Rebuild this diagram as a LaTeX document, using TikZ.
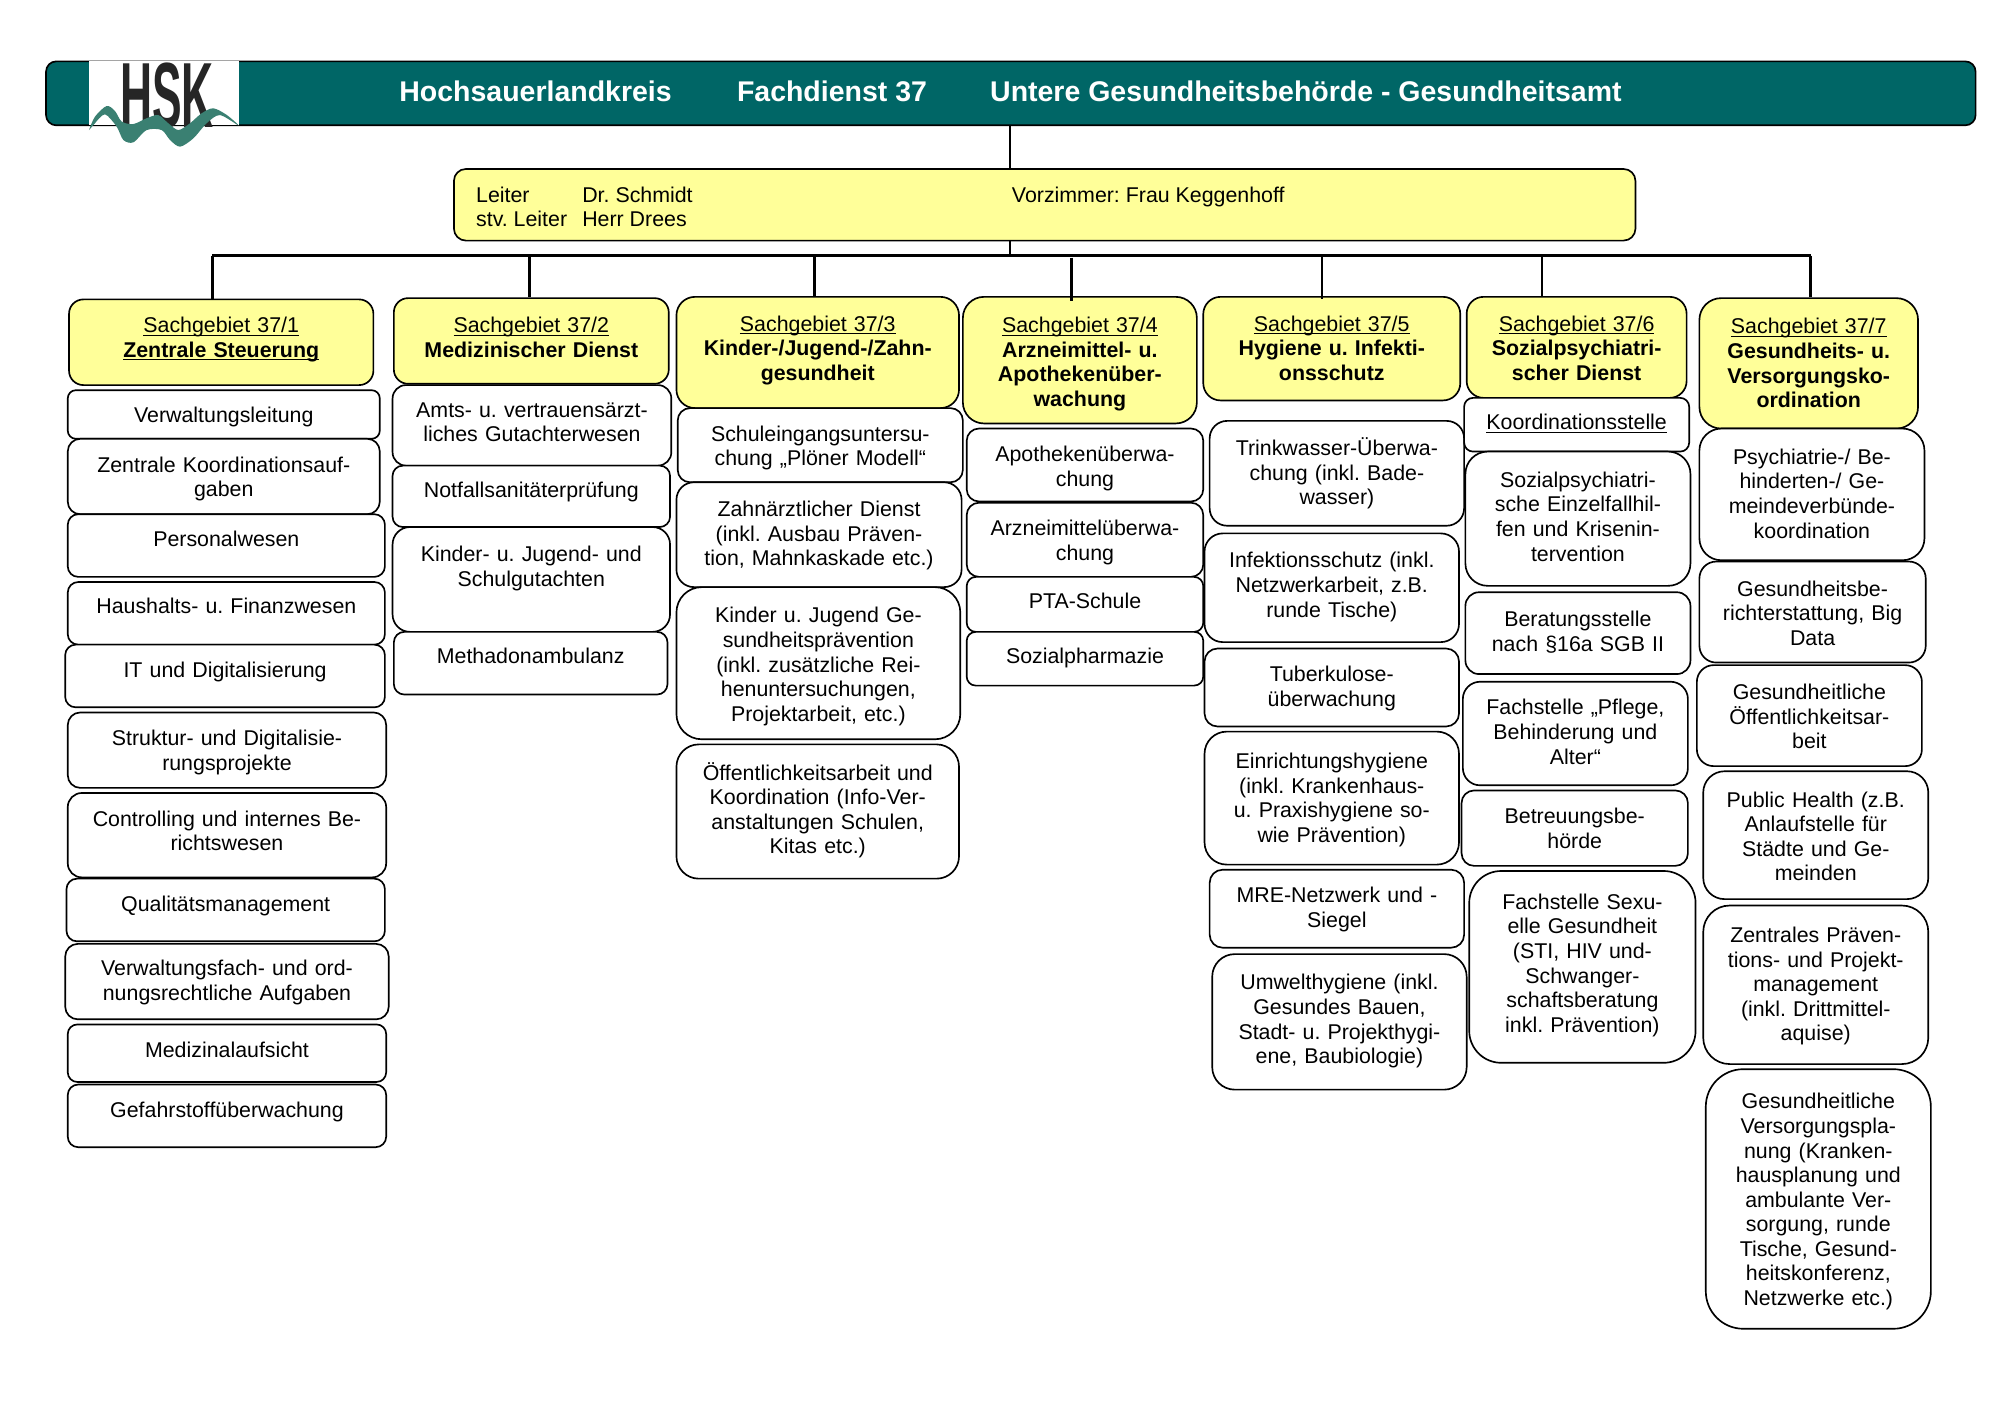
\documentclass[tikz,border=0pt]{standalone}
\usepackage{fontspec}
\setmainfont{Liberation Sans}
\usetikzlibrary{positioning}
\definecolor{bandteal}{RGB}{0,102,102}
\definecolor{boxyellow}{RGB}{255,255,153}
\definecolor{wavegreen}{RGB}{58,128,114}
\newcommand{\pxu}{0.018941cm}
\newcommand{\sgline}[1]{\leavevmode\setbox0\hbox{#1}\rlap{\rule[-1.3pt]{\wd0}{0.45pt}}\box0}
\tikzset{
 sz/.style n args={3}{text width=#1*\pxu, text height=(#3+0.5)*\pxu, text depth=(#2-#3-0.5)*\pxu, rounded corners={min(#1,#2)/6*\pxu}},
 leaf/.style={draw,line width=0.7pt,fill=white,anchor=north,align=center,inner xsep=0pt,inner ysep=0pt,font=\fontsize{9}{10.36}\selectfont\frenchspacing},
 head/.style={leaf,fill=boxyellow},
 plain/.style={inner sep=0pt,anchor=base west,font=\fontsize{9}{10.36}\selectfont\frenchspacing},
 title/.style={inner sep=0pt,anchor=base west,text=white,font=\fontsize{12}{14}\selectfont\bfseries},
 conn/.style={line width=1.1pt}
}
\begin{document}
\begin{tikzpicture}[x=\pxu,y=-\pxu]
\useasboundingbox (0,0.5) rectangle (1568,1108.5);
\node[draw,line width=0.7pt,fill=bandteal,rounded corners=8*\pxu,minimum width=1509*\pxu,minimum height=50*\pxu,inner sep=0pt] (band) at (790.5,73.5) {};
\node[fill=white,minimum width=117*\pxu,minimum height=50.5*\pxu,inner sep=0pt] (logo) at (128.2,73.1) {};
\node[inner sep=0pt,anchor=base,text=black!85,font=\fontsize{10}{10}\selectfont\bfseries] (hsk) at (130.5,100.5) {\scalebox{1.87}[3.9]{HSK}};
\fill[wavegreen,yshift=-0.5*\pxu] plot[smooth] coordinates {(69.6,101.7) (74.3,91.2) (83.4,82.9) (89.9,86.8) (95.2,95.1) (104.3,97) (114.7,92.5) (123.8,90) (131.6,96.4) (139.5,101.7) (148.6,96.4) (157.7,88.6) (166.8,84.7) (177.3,89.9) (186.7,98.3) (172,90) (161.6,96.4) (151.2,108.2) (140.8,114.7) (133,109.5) (126.4,101.7) (114.7,101.7) (104.3,111.3) (96.5,109.5) (91.2,99) (82.1,89.4) (74.3,96.4)} -- cycle;
\node[title] (t1) at (312,80) {Hochsauerlandkreis};
\node[title] (t2) at (576,80) {Fachdienst 37};
\node[title] (t3) at (774,80) {Untere Gesundheitsbehörde - Gesundheitsamt};

\node[head,sz={924}{56}{0}] (chef) at (817,132) {};
\node[plain] (l1) at (372,158.7) {Leiter};
\node[plain] (l2) at (372,177.7) {stv. Leiter};
\node[plain] (n1) at (455,158.7) {Dr. Schmidt};
\node[plain] (n2) at (455,177.7) {Herr Drees};
\node[plain] (vz) at (791,158.7) {Vorzimmer: Frau Keggenhoff};

\node[head,sz={238}{67}{25.5}] (sg1) at (173,234) {\sgline{Sachgebiet 37/1}\\\sgline{\textbf{Zentrale Steuerung}}};
\node[leaf,sz={244}{38}{24.5}] (a1) at (175,305) {Verwaltungsleitung};
\node[leaf,sz={244}{59}{25.5}] (a2) at (175,343) {Zentrale Koordinationsauf-\\gaben};
\node[leaf,sz={248}{49}{24.5}] (a3) at (177,402) {Personalwesen};
\node[leaf,sz={248}{49}{24.5}] (a4) at (177,455) {Haushalts- u. Finanzwesen};
\node[leaf,sz={250}{49}{25.5}] (a5) at (176,504) {IT und Digitalisierung};
\node[leaf,sz={249}{59}{25.5}] (a6) at (177.5,557) {Struktur- und Digitalisie-\\rungsprojekte};
\node[leaf,sz={249}{66}{25.5}] (a7) at (177.5,620) {Controlling und internes Be-\\richtswesen};
\node[leaf,sz={249}{49}{25.5}] (a8) at (176.5,687) {Qualitätsmanagement};
\node[leaf,sz={253}{59}{24.5}] (a9) at (177.5,738) {Verwaltungsfach- und ord-\\nungsrechtliche Aufgaben};
\node[leaf,sz={249}{45}{25.5}] (a10) at (177.5,801) {Medizinalaufsicht};
\node[leaf,sz={249}{49}{25.5}] (a11) at (177.5,848) {Gefahrstoffüberwachung};

\node[head,sz={215}{67}{26.5}] (sg2) at (415.5,233) {\sgline{Sachgebiet 37/2}\\\textbf{Medizinischer Dienst}};
\node[leaf,sz={218}{63}{24.5}] (b1) at (416,301) {Amts- u. vertrauensärzt-\\liches Gutachterwesen};
\node[leaf,sz={217}{48}{24.5}] (b2) at (415.5,364) {Notfallsanitäterprüfung};
\node[leaf,sz={217}{82}{26.5}] (b3) at (415.5,412) {Kinder- u. Jugend- und\\Schulgutachten};
\node[leaf,sz={214}{49}{24.5}] (b4) at (415,494) {Methadonambulanz};

\node[head,sz={221}{87}{26.5}] (sg3) at (639.5,232) {\sgline{Sachgebiet 37/3}\\\textbf{Kinder-/Jugend-/Zahn-}\\\textbf{gesundheit}};
\node[leaf,sz={223}{58}{25.5}] (c1) at (641.5,319) {Schuleingangsuntersu-\\chung „Plöner Modell“};
\node[leaf,sz={223}{82}{26.5}] (c2) at (640.5,377) {Zahnärztlicher Dienst\\(inkl. Ausbau Präven-\\tion, Mahnkaskade etc.)};
\node[leaf,sz={222}{119}{27.5}] (c3) at (640,459) {Kinder u. Jugend Ge-\\sundheitsprävention\\(inkl. zusätzliche Rei-\\henuntersuchungen,\\Projektarbeit, etc.)};
\node[leaf,sz={221}{105}{27.5}] (c4) at (639.5,582) {Öffentlichkeitsarbeit und\\Koordination (Info-Ver-\\anstaltungen Schulen,\\Kitas etc.)};

\node[head,sz={183}{99}{27.5}] (sg4) at (844.5,232) {\sgline{Sachgebiet 37/4}\\\textbf{Arzneimittel- u.}\\\textbf{Apothekenüber-}\\\textbf{wachung}};
\node[leaf,sz={185}{57}{25.5}] (d1) at (848.5,335) {Apothekenüberwa-\\chung};
\node[leaf,sz={185}{58}{25.5}] (d2) at (848.5,393) {Arzneimittelüberwa-\\chung};
\node[leaf,sz={185}{43}{24.5}] (d3) at (848.5,451) {PTA-Schule};
\node[leaf,sz={185}{42}{24.5}] (d4) at (848.5,494) {Sozialpharmazie};

\node[head,sz={201}{81}{26.5}] (sg5) at (1041.5,232) {\sgline{Sachgebiet 37/5}\\\textbf{Hygiene u. Infekti-}\\\textbf{onsschutz}};
\node[leaf,sz={199}{82}{26.5}] (e1) at (1045.5,329) {Trinkwasser-Überwa-\\chung (inkl. Bade-\\wasser)};
\node[leaf,sz={199}{85}{26.5}] (e2) at (1041.5,417) {Infektionsschutz (inkl.\\Netzwerkarbeit, z.B.\\runde Tische)};
\node[leaf,sz={199}{61}{25.5}] (e3) at (1041.5,507) {Tuberkulose-\\überwachung};
\node[leaf,sz={199}{104}{28.5}] (e4) at (1041.5,572) {Einrichtungshygiene\\(inkl. Krankenhaus-\\u. Praxishygiene so-\\wie Prävention)};
\node[leaf,sz={199}{61}{25.5}] (e5) at (1045.5,680) {MRE-Netzwerk und -\\Siegel};
\node[leaf,sz={199}{106}{27.5}] (e6) at (1047.5,746) {Umwelthygiene (inkl.\\Gesundes Bauen,\\Stadt- u. Projekthygi-\\ene, Baubiologie)};

\node[head,sz={172}{79}{26.5}] (sg6) at (1233,232) {\sgline{Sachgebiet 37/6}\\\textbf{Sozialpsychiatri-}\\\textbf{scher Dienst}};
\node[leaf,sz={176}{42}{24.5}] (f1) at (1233,311) {\sgline{Koordinationsstelle}};
\node[leaf,sz={176}{105}{27.5}] (f2) at (1234,353) {Sozialpsychiatri-\\sche Einzelfallhil-\\fen und Krisenin-\\tervention};
\node[leaf,sz={176}{64}{26.5}] (f3) at (1234,463) {Beratungsstelle\\nach §16a SGB II};
\node[leaf,sz={176}{81}{25.5}] (f4) at (1232,533) {Fachstelle „Pflege,\\Behinderung und\\Alter“};
\node[leaf,sz={177}{59}{25.5}] (f5) at (1231.5,618) {Betreuungsbe-\\hörde};
\node[leaf,sz={177}{150}{29.5}] (f6) at (1237.5,681) {Fachstelle Sexu-\\elle Gesundheit\\(STI, HIV und-\\Schwanger-\\schaftsberatung\\inkl. Prävention)};

\node[head,sz={171}{102}{27.5}] (sg7) at (1414.5,233) {\sgline{Sachgebiet 37/7}\\\textbf{Gesundheits- u.}\\\textbf{Versorgungsko-}\\\textbf{ordination}};
\node[leaf,sz={176}{103}{27.5}] (g1) at (1417,335) {Psychiatrie-/ Be-\\hinderten-/ Ge-\\meindeverbünde-\\koordination};
\node[leaf,sz={177}{79}{26.5}] (g2) at (1417.5,439) {Gesundheitsbe-\\richterstattung, Big\\Data};
\node[leaf,sz={176}{79}{26.5}] (g3) at (1415,520) {Gesundheitliche\\Öffentlichkeitsar-\\beit};
\node[leaf,sz={176}{100}{27.5}] (g4) at (1420,603) {Public Health (z.B.\\Anlaufstelle für\\Städte und Ge-\\meinden};
\node[leaf,sz={176}{124}{28.5}] (g5) at (1420,708) {Zentrales Präven-\\tions- und Projekt-\\management\\(inkl. Drittmittel-\\aquise)};
\node[leaf,sz={176}{203}{30.5}] (g6) at (1422,836) {Gesundheitliche\\Versorgungspla-\\nung (Kranken-\\hausplanung und\\ambulante Ver-\\sorgung, runde\\Tische, Gesund-\\heitskonferenz,\\Netzwerke etc.)};

\coordinate (top) at (790,98);
\coordinate (busl) at (166,200.5);
\coordinate (busm) at (1251,200.5);
\coordinate (busr) at (1416,200.5);
\coordinate (d2x) at (414,200.5);
\coordinate (d3x) at (637,200.5);
\coordinate (d4x) at (838,202);
\coordinate (d5x) at (1034,200.5);
\coordinate (d6x) at (1206,200.5);
\draw[conn] (top) -- (top |- chef.north);
\draw[conn] (top |- chef.south) -- (top |- busl);
\draw[line width=1.4pt] (busl) -- (busm);
\draw[conn] (busm) -- (busr);
\draw[conn] (busl) -- (busl |- sg1.north);
\draw[conn] (d2x) -- (d2x |- sg2.north);
\draw[conn] (d3x) -- (d3x |- sg3.north);
\draw[conn] (d4x) -- ([yshift=-4*\pxu]d4x |- sg4.north);
\draw[conn] (d5x) -- ([yshift=-2*\pxu]d5x |- sg5.north);
\draw[conn] (d6x) -- (d6x |- sg6.north);
\draw[conn] (busr) -- (busr |- sg7.north);
\end{tikzpicture}
\end{document}
